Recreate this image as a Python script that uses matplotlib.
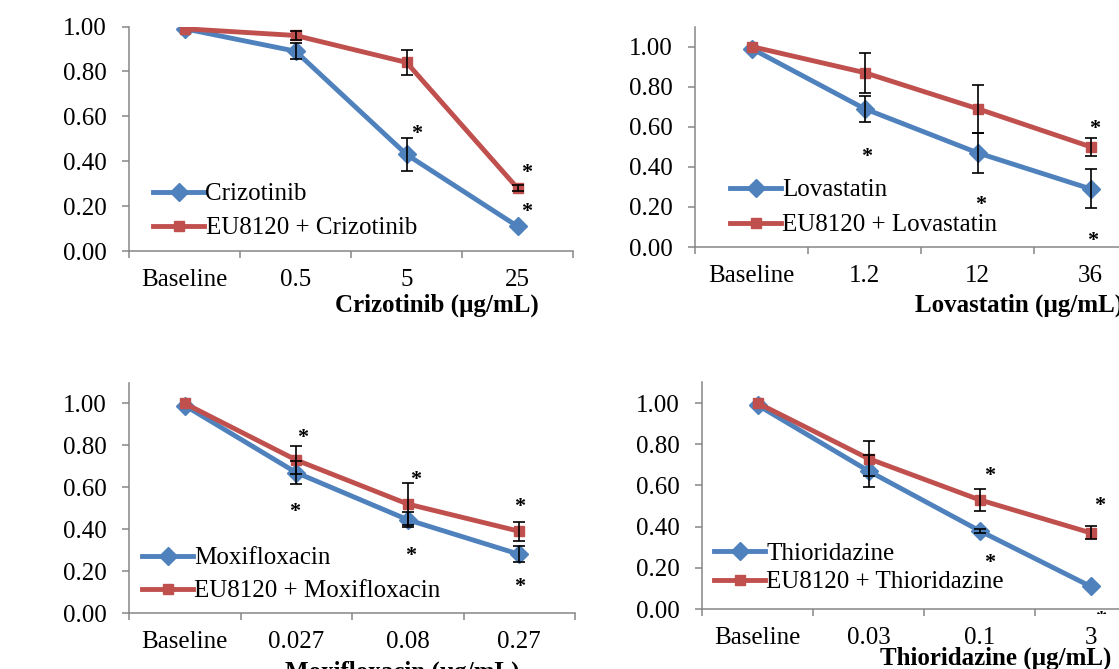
import matplotlib
matplotlib.use("Agg")
import matplotlib.pyplot as plt
from matplotlib.transforms import Bbox

plt.rcParams['font.family'] = ['Liberation Serif', 'DejaVu Serif']

W, H = 1119, 669

# ---------------- data ----------------
cri_labels = ['Baseline', '0.5', '5', '25']
cri_mono = [0.99, 0.89, 0.43, 0.11]
cri_mono_err = [0, 0.035, 0.075, 0]
cri_combo = [0.99, 0.96, 0.84, 0.28]
cri_combo_err = [0, 0.02, 0.056, 0.012]
cri_sig_x = [2.09, 3.08, 3.08]
cri_sig_y = [0.547, 0.37, 0.198]

lov_labels = ['Baseline', '1.2', '12', '36']
lov_mono = [0.99, 0.69, 0.47, 0.29]
lov_mono_err = [0, 0.065, 0.10, 0.097]
lov_combo = [1.00, 0.87, 0.69, 0.50]
lov_combo_err = [0, 0.10, 0.12, 0.045]
lov_sig_x = [1.02, 2.03, 3.04, 3.02]
lov_sig_y = [0.476, 0.235, 0.617, 0.057]

mox_labels = ['Baseline', '0.027', '0.08', '0.27']
mox_mono = [0.99, 0.67, 0.445, 0.28]
mox_mono_err = [0, 0.056, 0.036, 0.038]
mox_combo = [1.00, 0.73, 0.52, 0.39]
mox_combo_err = [0, 0.068, 0.10, 0.045]
mox_sig_x = [1.06, 0.99, 2.07, 2.03, 3.0, 3.0]
mox_sig_y = [0.86, 0.51, 0.659, 0.30, 0.53, 0.148]

thi_labels = ['Baseline', '0.03', '0.1', '3']
thi_mono = [0.99, 0.67, 0.38, 0.11]
thi_mono_err = [0, 0.08, 0.01, 0]
thi_combo = [1.00, 0.73, 0.53, 0.37]
thi_combo_err = [0, 0.085, 0.053, 0.032]
thi_sig_x = [2.09, 2.09, 3.08, 3.09]
thi_sig_y = [0.673, 0.252, 0.527, -0.025]

yticks = [0.0, 0.2, 0.4, 0.6, 0.8, 1.0]

BLUE = '#4F81BD'
RED = '#C0504D'
AXC = '#868686'
FS = 18

fig = plt.figure(figsize=(W / 100, H / 100), dpi=100)


def add_ax(left, top, right, bottom):
    return fig.add_axes([left / W, 1 - bottom / H, (right - left) / W, (bottom - top) / H])


def errbars(ax, x, y, err):
    xs = [a for a, e in zip(x, err) if e > 0]
    ys = [b for b, e in zip(y, err) if e > 0]
    es = [e for e in err if e > 0]
    ax.errorbar(xs, ys, yerr=es, fmt='none', ecolor='black',
                elinewidth=1.2, capsize=4.3, capthick=1.2, zorder=5)


def panel(ax, labels, mono, mono_err, combo, combo_err, sig_x, sig_y,
          ytop, drug, leg_x, leg_y, leg_sp, clip_bottom):
    x = list(range(len(labels)))
    ax.plot(x, mono, color=BLUE, lw=3.5, marker='D', ms=9.5, zorder=3,
            label=drug)
    ax.plot(x, combo, color=RED, lw=3.5, marker='s', ms=6.5, zorder=4,
            label='EU8120 + ' + drug)
    errbars(ax, x, mono, mono_err)
    errbars(ax, x, combo, combo_err)
    clip = Bbox([[0, H - clip_bottom], [W, H]])
    for sx, sy in zip(sig_x, sig_y):
        t = ax.annotate('*', (sx, sy), xytext=(0, -0.47 * 16), textcoords='offset points',
                        ha='center', va='baseline', fontsize=16, fontweight='bold',
                        color='black', annotation_clip=False, zorder=6)
        t.set_clip_on(True)
        t.set_clip_box(clip)
    ax.set_xlim(-0.5, len(labels) - 0.5)
    ax.set_ylim(0, ytop)
    ax.set_xticks(x)
    ax.set_xticklabels(labels)
    ax.set_xticks([i - 0.5 for i in range(len(labels) + 1)], minor=True)
    ax.set_yticks(yticks)
    ax.set_yticklabels(['%.2f' % v for v in yticks])
    ax.tick_params(axis='x', which='major', length=0, pad=13, labelsize=FS, labelcolor='black')
    ax.tick_params(axis='x', which='minor', length=5, width=1.1, color=AXC, direction='out')
    ax.tick_params(axis='y', which='major', length=5, width=1.1, color=AXC, direction='out',
                   pad=11, labelsize=FS, labelcolor='black')
    for s in ['top', 'right']:
        ax.spines[s].set_visible(False)
    for s in ['left', 'bottom']:
        ax.spines[s].set_color(AXC)
        ax.spines[s].set_linewidth(1.1)
    ax.patch.set_alpha(0)
    ax.legend(loc='upper left', bbox_to_anchor=(leg_x / W, 1 - leg_y / H),
              bbox_transform=fig.transFigure, frameon=False, fontsize=FS,
              handlelength=2.05, handletextpad=0.05, borderpad=0, borderaxespad=0,
              labelspacing=leg_sp, numpoints=1)
    return ax


ax1 = add_ax(129, 26.5, 573, 251)
panel(ax1, cri_labels, cri_mono, cri_mono_err, cri_combo, cri_combo_err,
      cri_sig_x, cri_sig_y, 1.0, 'Crizotinib', 153, 183, 0.45, 258)

ax2 = add_ax(695, 26.5, 1147, 247)
panel(ax2, lov_labels, lov_mono, lov_mono_err, lov_combo, lov_combo_err,
      lov_sig_x, lov_sig_y, 1.1, 'Lovastatin', 730, 179, 0.49, 254)

ax3 = add_ax(129, 382.5, 575, 613)
panel(ax3, mox_labels, mox_mono, mox_mono_err, mox_combo, mox_combo_err,
      mox_sig_x, mox_sig_y, 1.1, 'Moxifloxacin', 142, 547, 0.41, 620)

ax4 = add_ax(702, 382.4, 1146, 609)
panel(ax4, thi_labels, thi_mono, thi_mono_err, thi_combo, thi_combo_err,
      thi_sig_x, thi_sig_y, 1.1, 'Thioridazine', 714, 542, 0.25, 614)

# axis titles
fig.text(437 / W, 1 - 312 / H, 'Crizotinib (µg/mL)', ha='center', va='baseline',
         fontsize=FS, fontweight='bold')
fig.text(915 / W, 1 - 312 / H, 'Lovastatin (µg/mL)', ha='left', va='baseline',
         fontsize=FS, fontweight='bold')
fig.text(402 / W, 1 - 679 / H, 'Moxifloxacin (µg/mL)', ha='center', va='baseline',
         fontsize=FS, fontweight='bold')
fig.text(880 / W, 1 - 665 / H, 'Thioridazine (µg/mL)', ha='left', va='baseline',
         fontsize=FS, fontweight='bold')

fig.savefig('out.png', dpi=100)
